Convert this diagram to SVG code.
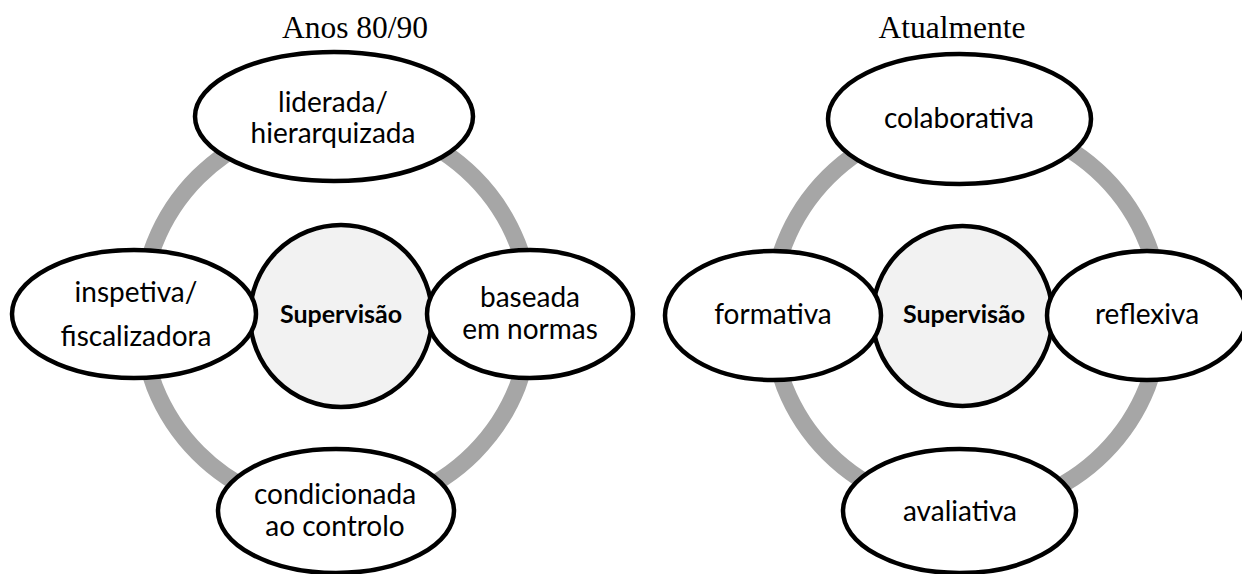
<svg xmlns="http://www.w3.org/2000/svg" width="1242" height="574" viewBox="0 0 1242 574">
<style>
.ring{fill:none;stroke:#a6a6a6;stroke-width:17}
.node{fill:#fff;stroke:#000;stroke-width:4.5}
.core{fill:#f2f2f2;stroke:#000;stroke-width:4.5}
.t{font-family:Lato,"Open Sans",sans-serif;font-size:28px;fill:#000;text-anchor:middle}
.b{font-family:Lato,"Open Sans",sans-serif;font-size:25px;font-weight:bold;fill:#000;text-anchor:middle}
.title{font-family:"Liberation Serif","Times New Roman",serif;font-size:31.5px;fill:#000;text-anchor:middle}
</style>
<rect width="1242" height="574" fill="#fff"/>
<text class="title" x="355" y="38">Anos 80/90</text>
<text class="title" x="952" y="38">Atualmente</text>
<g id="connectors">
<circle class="ring" cx="336" cy="315" r="195"/>
<circle class="ring" cx="966" cy="315" r="195"/>
</g>
<g id="left-center"><circle class="core" cx="341" cy="316" r="91"/><text class="b" x="341" y="323">Supervisão</text></g>
<g id="left-top"><ellipse class="node" cx="334" cy="116.5" rx="139" ry="64.5"/><text class="t" x="333" y="112">liderada/</text><text class="t" x="333" y="143">hierarquizada</text></g>
<g id="left-left"><ellipse class="node" cx="134" cy="314" rx="122" ry="64"/><text class="t" x="136" y="302">inspetiva/</text><text class="t" x="136" y="346">fiscalizadora</text></g>
<g id="left-right"><ellipse class="node" cx="530" cy="314" rx="103" ry="64"/><text class="t" x="530" y="307">baseada</text><text class="t" x="530" y="339">em normas</text></g>
<g id="left-bottom"><ellipse class="node" cx="336" cy="511" rx="118" ry="62"/><text class="t" x="335" y="504">condicionada</text><text class="t" x="335" y="536">ao controlo</text></g>
<g id="right-center"><circle class="core" cx="962.5" cy="316" r="90"/><text class="b" x="964" y="323">Supervisão</text></g>
<g id="right-top"><ellipse class="node" cx="959.5" cy="119" rx="131.5" ry="65"/><text class="t" x="959" y="128">colaborativa</text></g>
<g id="right-left"><ellipse class="node" cx="773" cy="315.5" rx="108" ry="64.5"/><text class="t" x="773" y="324">formativa</text></g>
<g id="right-right"><ellipse class="node" cx="1147" cy="315.5" rx="100" ry="64.5"/><text class="t" x="1147" y="324">reflexiva</text></g>
<g id="right-bottom"><ellipse class="node" cx="959.5" cy="511" rx="116.5" ry="62"/><text class="t" x="960" y="521">avaliativa</text></g>
</svg>
